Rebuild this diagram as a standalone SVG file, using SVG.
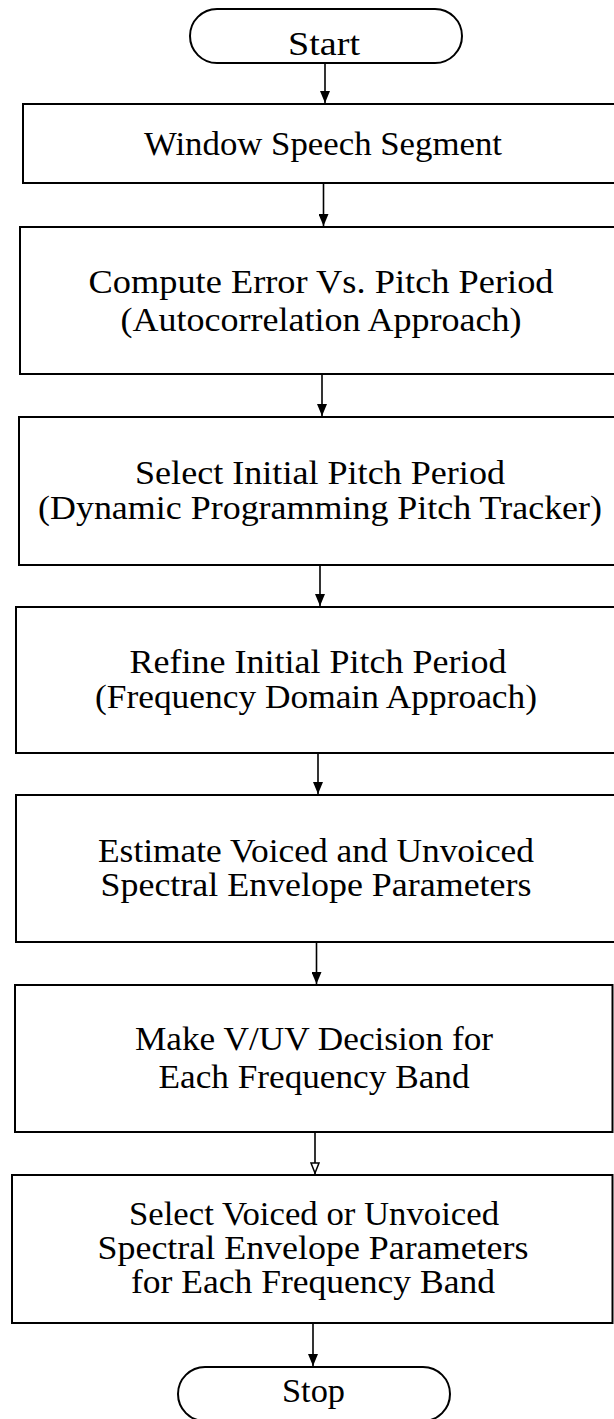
<svg xmlns="http://www.w3.org/2000/svg" width="614" height="1419" viewBox="0 0 614 1419">
<style>
.box{fill:#fff;stroke:#000;stroke-width:2}
.t{font-family:"Liberation Serif","Times New Roman",serif;font-size:34px;fill:#000;text-anchor:middle}
.c{stroke:#000;stroke-width:1.6;fill:none}
</style>
<defs>
<marker id="ah" markerUnits="userSpaceOnUse" markerWidth="10" markerHeight="12" refX="5" refY="12" orient="0" viewBox="0 0 10 12">
<path d="M0,0 L10,0 L5,12 z" fill="#000"/>
</marker>
<marker id="ahw" markerUnits="userSpaceOnUse" markerWidth="10" markerHeight="12" refX="5" refY="12" orient="0" viewBox="0 0 10 12">
<path d="M1,1 L9,1 L5,11 z" fill="#fff" stroke="#000" stroke-width="1.5"/>
</marker>
</defs>
<rect width="614" height="1419" fill="#fff"/>
<g id="connectors">
<line class="c" x1="325" y1="63" x2="325" y2="103" marker-end="url(#ah)"/>
<line class="c" x1="323.5" y1="183" x2="323.5" y2="226" marker-end="url(#ah)"/>
<line class="c" x1="322" y1="374" x2="322" y2="416" marker-end="url(#ah)"/>
<line class="c" x1="320" y1="565" x2="320" y2="606" marker-end="url(#ah)"/>
<line class="c" x1="318" y1="753" x2="318" y2="794" marker-end="url(#ah)"/>
<line class="c" x1="316.5" y1="942" x2="316.5" y2="984" marker-end="url(#ah)"/>
<line class="c" x1="315" y1="1132" x2="315" y2="1174" marker-end="url(#ahw)"/>
<line class="c" x1="313" y1="1323" x2="313" y2="1366" marker-end="url(#ah)"/>
</g>
<g id="start">
<rect class="box" x="190" y="9" width="272" height="54" rx="27" ry="27"/>
<text class="t" x="324" y="55" textLength="72" lengthAdjust="spacingAndGlyphs">Start</text>
</g>
<g id="window">
<rect class="box" x="23" y="104" width="600" height="79"/>
<text class="t" x="323" y="155" textLength="358" lengthAdjust="spacingAndGlyphs">Window Speech Segment</text>
</g>
<g id="compute">
<rect class="box" x="20" y="227" width="603" height="147"/>
<text class="t" x="321" y="293" textLength="465" lengthAdjust="spacingAndGlyphs">Compute Error Vs. Pitch Period</text>
<text class="t" x="321" y="331" textLength="401" lengthAdjust="spacingAndGlyphs">(Autocorrelation Approach)</text>
</g>
<g id="select-initial">
<rect class="box" x="19" y="417" width="604" height="148"/>
<text class="t" x="320" y="484" textLength="370" lengthAdjust="spacingAndGlyphs">Select Initial Pitch Period</text>
<text class="t" x="320" y="519" textLength="564" lengthAdjust="spacingAndGlyphs">(Dynamic Programming Pitch Tracker)</text>
</g>
<g id="refine">
<rect class="box" x="16" y="607" width="607" height="146"/>
<text class="t" x="318" y="673" textLength="377" lengthAdjust="spacingAndGlyphs">Refine Initial Pitch Period</text>
<text class="t" x="316" y="708" textLength="442" lengthAdjust="spacingAndGlyphs">(Frequency Domain Approach)</text>
</g>
<g id="estimate">
<rect class="box" x="16" y="795" width="607" height="147"/>
<text class="t" x="316" y="862" textLength="436" lengthAdjust="spacingAndGlyphs">Estimate Voiced and Unvoiced</text>
<text class="t" x="316" y="896" textLength="431" lengthAdjust="spacingAndGlyphs">Spectral Envelope Parameters</text>
</g>
<g id="decision">
<rect class="box" x="15" y="985" width="597.5" height="147"/>
<text class="t" x="314" y="1050" textLength="358" lengthAdjust="spacingAndGlyphs">Make V/UV Decision for</text>
<text class="t" x="314" y="1088" textLength="311" lengthAdjust="spacingAndGlyphs">Each Frequency Band</text>
</g>
<g id="select-params">
<rect class="box" x="12" y="1175" width="600.5" height="148"/>
<text class="t" x="314" y="1225" textLength="370" lengthAdjust="spacingAndGlyphs">Select Voiced or Unvoiced</text>
<text class="t" x="313" y="1259" textLength="431" lengthAdjust="spacingAndGlyphs">Spectral Envelope Parameters</text>
<text class="t" x="313" y="1293" textLength="364" lengthAdjust="spacingAndGlyphs">for Each Frequency Band</text>
</g>
<g id="stop">
<rect class="box" x="178" y="1367" width="272" height="54" rx="27" ry="27"/>
<text class="t" x="313.5" y="1402" textLength="63" lengthAdjust="spacingAndGlyphs">Stop</text>
</g>
</svg>
